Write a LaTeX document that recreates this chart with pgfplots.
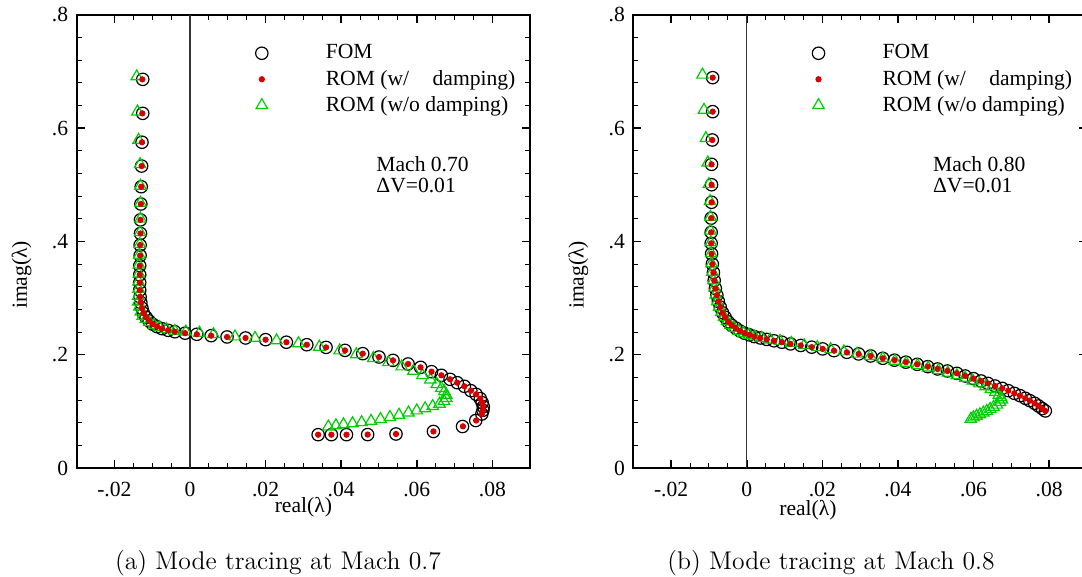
\documentclass[border=0pt]{standalone}
\usepackage{fontspec}
\usepackage{pgfplots}
\usepackage{pgfplotstable}
\pgfplotsset{compat=1.18}
\newfontfamily\tm{Liberation Serif}
\definecolor{myred}{RGB}{215,0,0}
\definecolor{mygreen}{RGB}{0,205,0}

% Mach 0.70 : FOM
\pgfplotstableread{
x y
-0.0125 0.686
-0.0125 0.626
-0.0127 0.575
-0.0128 0.533
-0.0129 0.4965
-0.0130 0.466
-0.0131 0.438
-0.0131 0.414
-0.0132 0.3935
-0.0132 0.375
-0.0133 0.357
-0.0133 0.341
-0.0133 0.327
-0.0133 0.314
-0.0132 0.302
-0.0130 0.292
-0.0127 0.282
-0.0123 0.273
-0.0116 0.266
-0.0108 0.2595
-0.0099 0.254
-0.0087 0.2494
-0.0074 0.2459
-0.0058 0.243
-0.0040 0.2405
-0.0013 0.238
0.0018 0.236
0.0056 0.2336
0.0098 0.2313
0.0147 0.2295
0.0200 0.2265
0.0255 0.222
0.0309 0.2176
0.0360 0.2129
0.0410 0.2076
0.0457 0.2018
0.0500 0.1959
0.0537 0.1900
0.0577 0.1836
0.0610 0.1777
0.0639 0.1700
0.0665 0.1636
0.0688 0.1565
0.0707 0.1506
0.0726 0.1442
0.0743 0.1365
0.0757 0.1300
0.0768 0.1224
0.0773 0.1153
0.0776 0.1082
0.0775 0.1018
0.0772 0.0953
0.0756 0.0838
0.0721 0.0732
0.0644 0.0645
0.0545 0.0600
0.0470 0.0590
0.0414 0.0588
0.0374 0.0588
0.0339 0.0588
}\fomA
% Mach 0.70 : ROM with damping
\pgfplotstableread{
x y
-0.0126 0.686
-0.0126 0.626
-0.0127 0.575
-0.0128 0.533
-0.0129 0.4965
-0.0130 0.466
-0.0131 0.438
-0.0131 0.414
-0.0132 0.3935
-0.0132 0.375
-0.0133 0.357
-0.0133 0.341
-0.0133 0.327
-0.0133 0.314
-0.0132 0.302
-0.0130 0.292
-0.0127 0.282
-0.0123 0.273
-0.0116 0.266
-0.0108 0.2595
-0.0099 0.254
-0.0087 0.2494
-0.0074 0.2459
-0.0058 0.243
-0.0040 0.2405
-0.0013 0.238
0.0018 0.236
0.0056 0.2336
0.0098 0.2313
0.0147 0.2295
0.0200 0.2265
0.0255 0.222
0.0309 0.2176
0.0360 0.2129
0.0410 0.2076
0.0457 0.2018
0.0500 0.1959
0.0537 0.1900
0.0577 0.1836
0.0610 0.1777
0.0639 0.1700
0.0665 0.1636
0.0688 0.1565
0.0707 0.1506
0.0726 0.1442
0.0743 0.1365
0.0757 0.1300
0.0768 0.1224
0.0773 0.1153
0.0776 0.1082
0.0775 0.1018
0.0772 0.0953
0.0757 0.0838
0.0722 0.0735
0.0644 0.0645
0.0545 0.0600
0.0470 0.0590
0.0414 0.0588
0.0374 0.0588
0.0339 0.0588
}\romdA
% Mach 0.70 : ROM without damping
\pgfplotstableread{
x y
-0.0141 0.691
-0.0139 0.629
-0.0136 0.579
-0.0132 0.536
-0.0131 0.498
-0.0131 0.468
-0.0131 0.440
-0.0132 0.416
-0.0133 0.395
-0.0134 0.376
-0.0135 0.359
-0.0135 0.343
-0.0136 0.329
-0.0136 0.316
-0.0137 0.3035
-0.0137 0.2936
-0.0134 0.2847
-0.0130 0.2759
-0.0125 0.2683
-0.0117 0.2625
-0.0108 0.2572
-0.0095 0.2524
-0.0081 0.2483
-0.0062 0.2448
-0.0040 0.2418
-0.0011 0.2405
0.0025 0.2385
0.0062 0.2360
0.0119 0.2320
0.0172 0.2294
0.0229 0.2250
0.0287 0.2200
0.0342 0.2138
0.0396 0.2073
0.0440 0.2006
0.0485 0.1938
0.0525 0.1865
0.0560 0.1790
0.0591 0.1712
0.0615 0.1636
0.0636 0.1560
0.0653 0.1480
0.0665 0.1410
0.0673 0.1350
0.0678 0.1290
0.0678 0.1232
0.0672 0.1180
0.0660 0.1132
0.0642 0.1090
0.0622 0.1052
0.0600 0.1014
0.0578 0.0977
0.0553 0.0936
0.0529 0.0897
0.0504 0.0862
0.0479 0.0830
0.0454 0.0806
0.0430 0.0787
0.0406 0.0768
0.0386 0.0750
0.0366 0.0730
}\romuA

% Mach 0.80 : FOM
\pgfplotstableread{
x y
-0.0090 0.689
-0.0090 0.629
-0.0091 0.579
-0.0093 0.536
-0.0093 0.500
-0.0093 0.469
-0.0094 0.441
-0.0094 0.416
-0.0094 0.3966
-0.0093 0.378
-0.0091 0.360
-0.0088 0.345
-0.0086 0.331
-0.0083 0.317
-0.0079 0.305
-0.0075 0.294
-0.0070 0.284
-0.0064 0.274
-0.0057 0.266
-0.0049 0.258
-0.0040 0.252
-0.0029 0.247
-0.0018 0.242
-0.0006 0.238
0.0007 0.235
0.0020 0.232
0.0036 0.2295
0.0053 0.227
0.0072 0.2245
0.0093 0.222
0.0116 0.219
0.0143 0.2163
0.0172 0.2133
0.0201 0.2102
0.0231 0.2071
0.0265 0.2042
0.0296 0.2013
0.0328 0.1977
0.0360 0.1936
0.0391 0.1903
0.0421 0.1868
0.0451 0.1830
0.0479 0.1789
0.0505 0.1748
0.0531 0.1712
0.0556 0.1671
0.0578 0.1624
0.0600 0.1577
0.0620 0.1536
0.0638 0.1494
0.0657 0.1447
0.0676 0.1406
0.0692 0.1365
0.0708 0.1318
0.0723 0.1277
0.0737 0.1230
0.0749 0.1189
0.0762 0.1142
0.0772 0.1095
0.0782 0.1048
0.0790 0.1007
}\fomB
% Mach 0.80 : ROM with damping
\pgfplotstableread{
x y
-0.0090 0.689
-0.0090 0.629
-0.0091 0.579
-0.0093 0.536
-0.0093 0.500
-0.0093 0.469
-0.0094 0.441
-0.0094 0.416
-0.0094 0.3966
-0.0093 0.378
-0.0091 0.360
-0.0088 0.345
-0.0086 0.331
-0.0083 0.317
-0.0079 0.305
-0.0075 0.294
-0.0070 0.284
-0.0064 0.274
-0.0057 0.266
-0.0049 0.258
-0.0040 0.252
-0.0029 0.247
-0.0018 0.242
-0.0006 0.238
0.0007 0.235
0.0020 0.232
0.0036 0.2295
0.0053 0.227
0.0072 0.2245
0.0093 0.222
0.0116 0.219
0.0143 0.2163
0.0172 0.2133
0.0201 0.2102
0.0231 0.2071
0.0265 0.2042
0.0296 0.2013
0.0328 0.1977
0.0360 0.1936
0.0391 0.1903
0.0421 0.1868
0.0451 0.1830
0.0479 0.1789
0.0505 0.1748
0.0531 0.1712
0.0556 0.1671
0.0578 0.1624
0.0600 0.1577
0.0620 0.1536
0.0638 0.1494
0.0657 0.1447
0.0676 0.1406
0.0692 0.1365
0.0708 0.1318
0.0723 0.1277
0.0737 0.1230
0.0749 0.1189
0.0762 0.1142
0.0772 0.1095
0.0782 0.1048
0.0790 0.1007
}\romdB
% Mach 0.80 : ROM without damping
\pgfplotstableread{
x y
-0.0117 0.694
-0.0113 0.632
-0.0108 0.582
-0.0103 0.539
-0.0100 0.501
-0.0097 0.471
-0.0096 0.443
-0.0096 0.419
-0.0095 0.398
-0.0094 0.379
-0.0093 0.361
-0.0091 0.346
-0.0088 0.331
-0.0085 0.318
-0.0082 0.306
-0.0078 0.294
-0.0073 0.284
-0.0067 0.275
-0.0060 0.266
-0.0052 0.259
-0.0043 0.252
-0.0033 0.247
-0.0021 0.242
-0.0008 0.238
0.0006 0.235
0.0021 0.232
0.0040 0.2295
0.0062 0.2265
0.0088 0.224
0.0118 0.2205
0.0152 0.2165
0.0187 0.213
0.0222 0.2095
0.0257 0.2055
0.0292 0.2015
0.0327 0.1975
0.0360 0.1935
0.0392 0.1890
0.0422 0.1855
0.0452 0.1815
0.0480 0.1770
0.0507 0.1725
0.0532 0.1680
0.0556 0.1635
0.0578 0.1588
0.0598 0.1540
0.0616 0.1490
0.0632 0.1440
0.0646 0.1390
0.0658 0.1340
0.0667 0.1290
0.0673 0.1245
0.0675 0.1206
0.0670 0.1160
0.0662 0.1115
0.0653 0.1075
0.0644 0.1040
0.0635 0.1005
0.0626 0.0975
0.0617 0.0945
0.0608 0.0918
0.0600 0.0890
0.0593 0.0865
}\romuB

\pgfplotsset{
  modeaxis/.style={
    scale only axis, width=226.8pt, height=226.6pt,
    anchor=south west,
    xmin=-0.03, xmax=0.09, ymin=0, ymax=0.8,
    scaled x ticks=false, scaled y ticks=false,
    xtick={-0.02,0,0.02,0.04,0.06,0.08},
    xticklabels={-.02,0,.02,.04,.06,.08},
    ytick={0,0.2,0.4,0.6,0.8},
    yticklabels={0,.2,.4,.6,.8},
    minor x tick num=3, minor y tick num=4,
    tick align=inside,
    major tick length=4pt, minor tick length=2.5pt,
    every major tick/.append style={line width=0.8pt, black},
    every minor tick/.append style={line width=0.5pt, black},
    axis line style={line width=1pt},
    xticklabel style={yshift=-3.5pt},
    yticklabel style={xshift=-0.7pt},
    ylabel={imag(λ)},
    xlabel={real(λ)},
    every axis y label/.style={at={(axis description cs:-0.121,0.426)}, rotate=90, anchor=center},
    legend style={at={(axis description cs:0.3819,0.9438)}, anchor=north west,
      draw=none, fill=none, inner sep=0pt, outer sep=0pt,
      row sep=0pt, column sep=0pt, nodes={inner sep=0pt}},
    legend cell align=left,
    legend image code/.code={\path[draw=none,fill=none] (-6pt,-6.5pt) rectangle (32pt,6.5pt);
      \draw[##1] plot coordinates {(0pt,0pt)};},
  },
  fomstyle/.style={only marks, mark=o, mark size=3.1pt, black, line width=0.6pt},
  romustyle/.style={only marks, mark=triangle, mark size=3.3pt, mygreen, line width=0.6pt},
  romdstyle/.style={only marks, mark=*, mark size=1.35pt, myred, mark options={draw=myred, fill=myred}},
}

\begin{document}
\begin{tikzpicture}[font=\tm\fontsize{10.8}{12.9}\selectfont]
% ---------- (a) Mach 0.70
\begin{axis}[modeaxis, at={(38.3pt,54.5pt)},
  every axis x label/.style={at={(axis description cs:0.5,-0.087)}, anchor=center}]
\addplot[black!80, line width=0.6pt, forget plot] coordinates {(0,0) (0,0.8)};
\addplot[fomstyle, forget plot] table[x=x,y=y] {\fomA};
\addplot[romustyle, forget plot] table[x=x,y=y] {\romuA};
\addplot[romdstyle, forget plot] table[x=x,y=y] {\romdA};
\addlegendimage{fomstyle}\addlegendentry{FOM}
\addlegendimage{romdstyle}\addlegendentry{ROM (w/\hspace*{9pt} damping)}
\addlegendimage{romustyle}\addlegendentry{ROM (w/o damping)}
\node[anchor=west, inner sep=0pt] at (axis cs:0.0492,0.5366) {Mach 0.70};
\node[anchor=west, inner sep=0pt] at (axis cs:0.0492,0.498) {ΔV=0.01};
\end{axis}
% ---------- (b) Mach 0.80
\begin{axis}[modeaxis, at={(316.65pt,54.5pt)},
  every axis x label/.style={at={(axis description cs:0.385,-0.094)}, anchor=center}]
\addplot[black!80, line width=0.6pt, forget plot] coordinates {(0,0) (0,0.8)};
\addplot[fomstyle, forget plot] table[x=x,y=y] {\fomB};
\addplot[romustyle, forget plot] table[x=x,y=y] {\romuB};
\addplot[romdstyle, forget plot] table[x=x,y=y] {\romdB};
\addlegendimage{fomstyle}\addlegendentry{FOM}
\addlegendimage{romdstyle}\addlegendentry{ROM (w/\hspace*{9pt} damping)}
\addlegendimage{romustyle}\addlegendentry{ROM (w/o damping)}
\node[anchor=west, inner sep=0pt] at (axis cs:0.0492,0.5366) {Mach 0.80};
\node[anchor=west, inner sep=0pt] at (axis cs:0.0492,0.498) {ΔV=0.01};
\end{axis}
% ---------- captions
\node[font=\normalfont\fontsize{12.8}{15}\selectfont, inner sep=0pt, anchor=center] at (139pt,6.8pt) {(a) Mode tracing at Mach 0.7};
\node[font=\normalfont\fontsize{12.8}{15}\selectfont, inner sep=0pt, anchor=center] at (415.5pt,6.8pt) {(b) Mode tracing at Mach 0.8};
\pgfresetboundingbox
\path[use as bounding box] (0,0) rectangle (541pt,288.5pt);
\end{tikzpicture}
\end{document}
